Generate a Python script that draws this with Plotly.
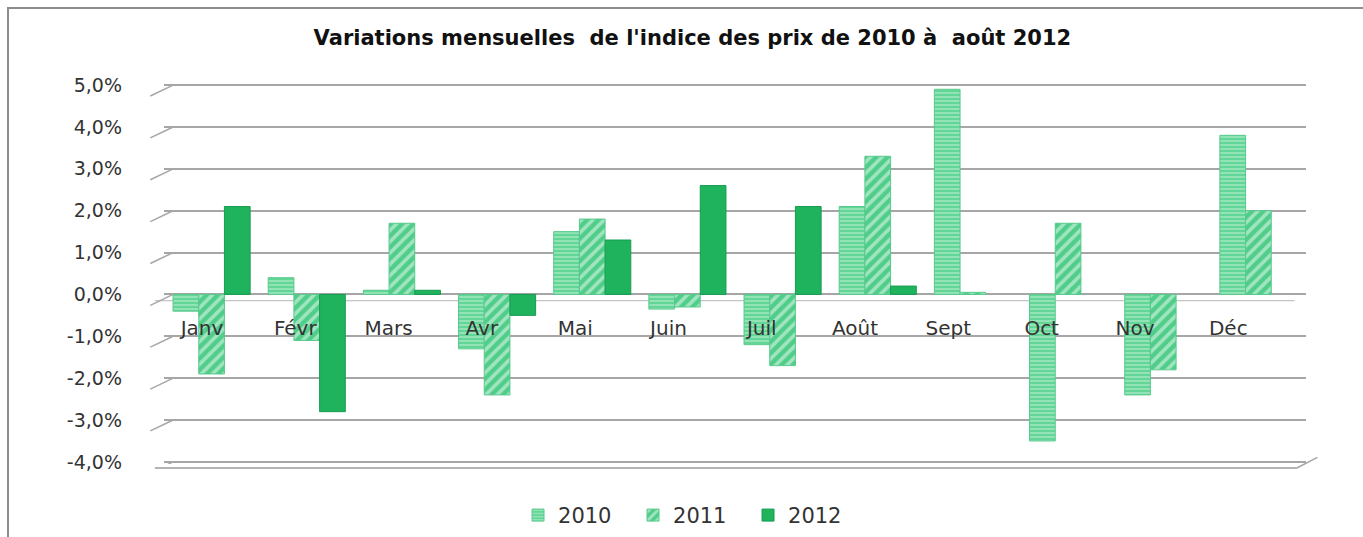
import plotly.graph_objects as go

months = ["Janv", "Févr", "Mars", "Avr", "Mai", "Juin", "Juil", "Août", "Sept", "Oct", "Nov", "Déc"]
v2010 = [-0.4, 0.4, 0.1, -1.3, 1.5, -0.35, -1.2, 2.1, 4.9, -3.5, -2.4, 3.8]
v2011 = [-1.9, -1.1, 1.7, -2.4, 1.8, -0.3, -1.7, 3.3, 0.05, 1.7, -1.8, 2.0]
v2012 = [2.1, -2.8, 0.1, -0.5, 1.3, 2.6, 2.1, 0.2, None, None, None, None]
y_ticks = [-4, -3, -2, -1, 0, 1, 2, 3, 4, 5]
y_ticktext = ["-4,0%", "-3,0%", "-2,0%", "-1,0%", "0,0%", "1,0%", "2,0%", "3,0%", "4,0%", "5,0%"]
series_names = ["2010", "2011", "2012"]

Y0, Y1 = -4.05, 5.05
SPAN = Y1 - Y0

fig = go.Figure()
fig.add_trace(go.Bar(
    name=series_names[0], x=months, y=v2010,
    marker=dict(color="#62d597", line=dict(color="#58c98c", width=1),
                pattern=dict(shape="-", fillmode="overlay", fgcolor="#e9fbf0",
                             size=4, solidity=0.35)),
))
fig.add_trace(go.Bar(
    name=series_names[1], x=months, y=v2011,
    marker=dict(color="#4fcd89", line=dict(color="#58c98c", width=1),
                pattern=dict(shape="/", fillmode="overlay", fgcolor="#f2fdf6",
                             size=8, solidity=0.45)),
))
fig.add_trace(go.Bar(
    name=series_names[2], x=months, y=v2012,
    marker=dict(color="#1fb35e", line=dict(color="#179c50", width=1)),
))
# empty helper trace so the perspective label axis is drawn
fig.add_trace(go.Scatter(x=[None], y=[None], xaxis="x2", yaxis="y",
                         showlegend=False, hoverinfo="skip", mode="markers"))

# small perspective ticks on the left wall
for v in y_ticks:
    fig.add_shape(type="line", xref="paper", yref="y",
                  x0=-0.012, x1=0.008, y0=v - 0.26, y1=v,
                  line=dict(color="#a6a6a6", width=1.5))

zero_p = -Y0 / SPAN
floor_p = (-4 - Y0) / SPAN
# zero plane front edge
fig.add_shape(type="line", xref="paper", yref="paper", x0=-0.008, x1=0.99,
              y0=zero_p - 0.016, y1=zero_p - 0.016,
              line=dict(color="#c4c4c4", width=1.2), layer="below")
# floor front edge
fig.add_shape(type="line", xref="paper", yref="paper", x0=-0.008, x1=0.992,
              y0=floor_p - 0.016, y1=floor_p - 0.016, line=dict(color="#b4b4b4", width=2))
fig.add_shape(type="line", xref="paper", yref="paper", x0=0.992, x1=1.01,
              y0=floor_p - 0.016, y1=floor_p + 0.012, line=dict(color="#a6a6a6", width=1.5))

# outer chart border
fig.add_shape(type="rect", xref="paper", yref="paper",
              x0=-0.1366, x1=1.08, y0=-0.4, y1=(537 - 73 - 8) / 381,
              line=dict(color="#8c8c8c", width=2), fillcolor="rgba(0,0,0,0)")

fig.update_layout(
    width=1363, height=537,
    margin=dict(l=164, r=57, t=83, b=73, autoexpand=False),
    paper_bgcolor="white", plot_bgcolor="white",
    barmode="group", bargap=0.19, bargroupgap=0.0,
    title=dict(text="<b>Variations mensuelles  de l'indice des prix de 2010 à  août 2012</b>",
               x=0.508, xanchor="center", y=0.929, yanchor="middle",
               font=dict(family="DejaVu Sans", size=21, color="#111111")),
    xaxis=dict(anchor="free", position=zero_p, showline=False, showgrid=False,
               ticks="", showticklabels=False),
    xaxis2=dict(overlaying="x", anchor="free", position=zero_p, side="bottom",
                range=[-0.407, 11.833], tickvals=list(range(len(months))), ticktext=months,
                showline=False, showgrid=False, zeroline=False, ticks="",
                ticklabelstandoff=20,
                tickfont=dict(family="DejaVu Sans", size=20, color="#333333")),
    yaxis=dict(range=[Y0, Y1], tickvals=y_ticks, ticktext=y_ticktext,
               showgrid=True, gridcolor="#a6a6a6", gridwidth=1.5,
               zeroline=True, zerolinecolor="#a6a6a6", zerolinewidth=1.5,
               ticks="", ticklabelstandoff=41,
               tickfont=dict(family="DejaVu Sans", size=19, color="#333333")),
    legend=dict(orientation="h", x=0.31, xanchor="left", y=-0.135, yanchor="middle",
                font=dict(family="DejaVu Sans", size=21, color="#333333"),
                itemwidth=30, entrywidth=70, entrywidthmode="pixels",
                traceorder="normal"),
    showlegend=True,
)

fig.write_html("out.html", config={"displayModeBar": False},
               post_script="document.body.style.margin='0';")
